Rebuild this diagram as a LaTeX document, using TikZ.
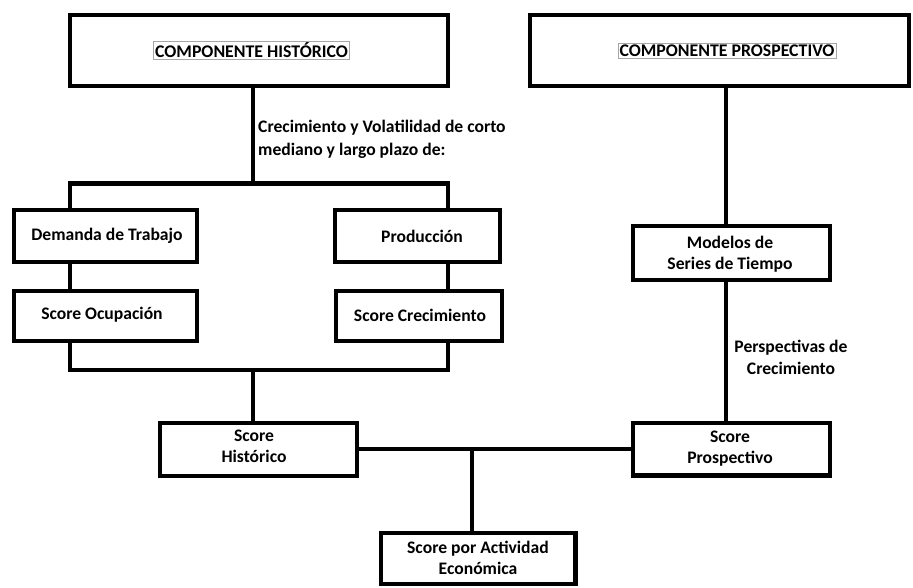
\documentclass[tikz,border=0pt]{standalone}
\usepackage{fontspec}
\setmainfont{Carlito}
\begin{document}
\begin{tikzpicture}[x=1pt,y=-1pt,
  box/.style={draw=black,line width=4.5pt,fill=white,inner sep=0pt},
  conn/.style={draw=black,line width=4.5pt},
  lbl/.style={font=\fontsize{17.6}{21.5}\selectfont\bfseries,align=center,inner sep=0pt},
  tag/.style={draw=gray!70,line width=0.8pt,font=\fontsize{17.8}{21.5}\selectfont\bfseries,inner sep=1.5pt}]
\useasboundingbox (0,0) rectangle (913,587);
% top boxes
\node[box,minimum width=378pt,minimum height=71pt] (hist) at (259,50.5) {};
\node[box,minimum width=379pt,minimum height=71pt] (prosp) at (719.5,50.5) {};
\node[tag] (thist) at (251.5,50.5) {COMPONENTE HISTÓRICO};
\node[tag] (tprosp) at (727,50.5) {COMPONENTE PROSPECTIVO};
% coordinates
\coordinate (bt) at (253,183.5);
\coordinate (btl) at (70,183.5);
\coordinate (btr) at (448,183.5);
\coordinate (bb) at (253,370);
\coordinate (bbl) at (70,370);
\coordinate (bbr) at (448,370);
\coordinate (mid) at (472,449);
% left boxes
\node[box,minimum width=183pt,minimum height=52pt] (dem) at (105.5,236) {};
\node[box,minimum width=183pt,minimum height=50pt] (socu) at (105.5,316) {};
\node[box,minimum width=165pt,minimum height=52pt] (prod) at (417.5,236) {};
\node[box,minimum width=166pt,minimum height=50pt] (screc) at (419,316) {};
\node[lbl] at (107,236) {Demanda de Trabajo};
\node[lbl] at (102,315) {Score Ocupación};
\node[lbl] at (422,236) {Producción};
\node[lbl] at (420,315) {Score Crecimiento};
% right column
\node[box,minimum width=197pt,minimum height=54pt] (mod) at (731.5,253) {};
\node[lbl] at (730,254) {Modelos de\\Series de Tiempo};
\node[box,minimum width=197pt,minimum height=52.5pt] (spro) at (731.5,449.25) {};
\node[lbl] at (730,448.5) {Score\\Prospectivo};
\node[box,minimum width=197pt,minimum height=53pt] (shis) at (258.5,449.5) {};
\node[lbl] at (254,446.5) {Score\\Histórico};
\node[box,minimum width=194.5pt,minimum height=51pt] (sact) at (478.25,558.5) {};
\node[lbl] at (478,558) {Score por Actividad\\Económica};
% texts
\node[lbl,anchor=west,align=left,font=\fontsize{17.6}{23}\selectfont\bfseries] (txt) at (258,139) {Crecimiento y Volatilidad de corto\\mediano y largo plazo de:};
\node[lbl] (ptxt) at (791,357.5) {Perspectivas de\\Crecimiento};
% connectors
\draw[conn] (hist.south -| bt) -- (bt);
\draw[conn,line cap=rect] (btl) -- (btr);
\draw[conn] (btl) -- (dem.north -| btl);
\draw[conn] (btr) -- (prod.north -| btr);
\draw[conn] (dem.south -| btl) -- (socu.north -| btl);
\draw[conn] (prod.south -| btr) -- (screc.north -| btr);
\draw[conn] (socu.south -| bbl) -- (bbl);
\draw[conn] (screc.south -| bbr) -- (bbr);
\draw[conn,line cap=rect] (bbl) -- (bbr);
\draw[conn] (bb) -- (shis.north -| bb);
\draw[conn] (prosp.south -| mod.north) ++(-5.5,0) coordinate (pv) -- (mod.north -| pv);
\draw[conn] (mod.south -| pv) -- (spro.north -| pv);
\draw[conn] (shis.east) ++(0,-0.5) coordinate (hl) -- (spro.west |- hl);
\draw[conn] (mid) -- (sact.north -| mid);
\end{tikzpicture}
\end{document}
